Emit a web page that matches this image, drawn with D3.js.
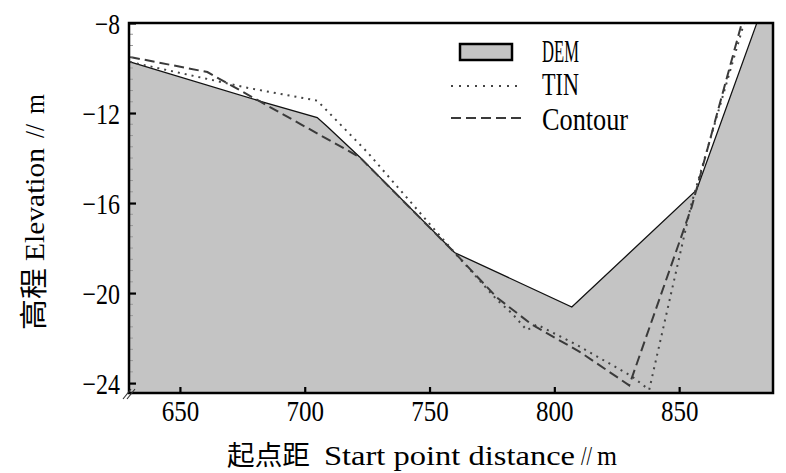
<!DOCTYPE html>
<html>
<head>
<meta charset="utf-8">
<script src="https://cdn.jsdelivr.net/npm/d3@7"></script>
<style>
  body { margin: 0; background: #fff; }
  text { font-family: "Liberation Serif", "Noto Sans CJK SC", serif; fill: #000; }
  .cjk { font-family: "Noto Sans CJK SC", sans-serif; }
</style>
</head>
<body>
<div id="chart"></div>
<script>
// profile data (distance in m, elevation in m)
const demX = [630, 683, 705, 709, 722, 760, 807, 857, 881, 890];
const demY = [-9.73, -11.5, -12.2, -12.6, -13.95, -18.2, -20.62, -15.42, -8.04, -5.2];

const tinX = [630, 678, 705, 725, 760, 777, 783, 789, 793, 809, 831, 838, 855, 876, 880];
const tinY = [-9.73, -10.9, -11.45, -13.73, -18.2, -20.3, -20.9, -21.65, -21.4, -22.3, -23.7, -24.3, -16.0, -8.0, -6.5];

const conX = [630, 661, 722, 760, 777, 791, 810, 830, 855, 875, 878];
const conY = [-9.51, -10.18, -13.96, -18.2, -20.2, -21.4, -22.6, -24.1, -16.18, -8.04, -6.8];

const xTicks = [650, 700, 750, 800, 850];
const yTicks = [-8, -12, -16, -20, -24];
const legendNames = ["DEM", "TIN", "Contour"];

const W = 786, H = 473;
const pl = 129, pr = 773, pt = 23, pb = 393;
const cw = 12.5; // half-width advance of the latin glyphs

const svg = d3.select("#chart").append("svg")
  .attr("width", W).attr("height", H);

const x = d3.scaleLinear().domain([629.6, 887.6]).range([pl, pr]);
const y = d3.scaleLinear().domain([-24.44, -8]).range([pb, pt]);

svg.append("clipPath").attr("id", "clip")
  .append("rect").attr("x", pl).attr("y", pt)
  .attr("width", pr - pl).attr("height", pb - pt);

const plot = svg.append("g").attr("clip-path", "url(#clip)");

const zip = (xs, ys) => xs.map((v, i) => [v, ys[i]]);

const area = d3.area().x(d => x(d[0])).y0(y(-24.44)).y1(d => y(d[1]));
const line = d3.line().x(d => x(d[0])).y(d => y(d[1]));

plot.append("path").datum(zip(demX, demY))
  .attr("d", area).attr("fill", "#c4c4c4");
plot.append("path").datum(zip(demX, demY))
  .attr("d", line).attr("fill", "none").attr("stroke", "#111").attr("stroke-width", 1.3);

plot.append("path").datum(zip(tinX, tinY))
  .attr("d", line).attr("fill", "none").attr("stroke", "#444")
  .attr("stroke-width", 2).attr("stroke-dasharray", "2,5");

plot.append("path").datum(zip(conX, conY))
  .attr("d", line).attr("fill", "none").attr("stroke", "#3a3a3a")
  .attr("stroke-width", 2).attr("stroke-dasharray", "10,5");

// minor y ticks every 0.5
const minor = d3.range(-24, -8, 0.5).filter(v => v % 4 !== 0);
svg.append("g").selectAll("line").data(minor).enter().append("line")
  .attr("x1", pl).attr("x2", pl + 4)
  .attr("y1", d => y(d)).attr("y2", d => y(d))
  .attr("stroke", "#999").attr("stroke-width", 1);

// y axis
const yAxis = svg.append("g").attr("transform", `translate(${pl},0)`)
  .call(d3.axisLeft(y).tickValues(yTicks).tickSize(-7).tickPadding(0).tickSizeOuter(0));
yAxis.select(".domain").remove();
yAxis.selectAll(".tick line").attr("stroke", "#000").attr("stroke-width", 2.2);
yAxis.selectAll(".tick text")
  .attr("x", -9).attr("y", 10).attr("dy", 0)
  .style("font-size", "30px").attr("text-anchor", "end")
  .attr("textLength", function() { return this.textContent.length * cw; })
  .attr("lengthAdjust", "spacingAndGlyphs");

// x axis
const xAxis = svg.append("g").attr("transform", `translate(0,${pb})`)
  .call(d3.axisBottom(x).tickValues(xTicks).tickSize(-6).tickPadding(0).tickSizeOuter(0));
xAxis.select(".domain").remove();
xAxis.selectAll(".tick line").attr("stroke", "#000").attr("stroke-width", 2.2);
xAxis.selectAll(".tick text")
  .attr("y", 28).attr("dy", 0)
  .style("font-size", "30px")
  .attr("textLength", function() { return this.textContent.length * cw; })
  .attr("lengthAdjust", "spacingAndGlyphs");

// frame
svg.append("rect").attr("x", pl).attr("y", pt)
  .attr("width", pr - pl).attr("height", pb - pt)
  .attr("fill", "none").attr("stroke", "#000").attr("stroke-width", 2.5);

// axis break marks
[0, 4].forEach(o => {
  svg.append("line")
    .attr("x1", pl - 6 + o).attr("y1", pb + 6)
    .attr("x2", pl + 2 + o).attr("y2", pb - 4)
    .attr("stroke", "#333").attr("stroke-width", 1.2);
});

// text piece with a fixed length
function piece(g, str, px, py, len, size, cls) {
  return g.append("text").attr("class", cls || null)
    .attr("x", px).attr("y", py)
    .style("font-size", size + "px")
    .attr("textLength", len).attr("lengthAdjust", "spacingAndGlyphs")
    .text(str);
}

// x title
const xt = svg.append("g");
piece(xt, "起点距", 227, 465, 83, 27, "cjk");
piece(xt, "Start point distance", 324, 465, 251, 28);
piece(xt, "//", 581, 465, 11, 28);
piece(xt, "m", 597, 465, 20, 28);

// y title, rotated: x inside the group runs upward
const yt = svg.append("g").attr("transform", "translate(44,0) rotate(-90)");
piece(yt, "高程", -330, 0, 62, 28, "cjk");
piece(yt, "Elevation", -261, 0, 113, 28);
piece(yt, "//", -138, 0, 14, 28);
piece(yt, "m", -114, 0, 20, 28);

// legend
const lg = svg.append("g");
lg.append("rect").attr("x", 460).attr("y", 44).attr("width", 52).attr("height", 16)
  .attr("fill", "#c4c4c4").attr("stroke", "#000").attr("stroke-width", 2.5);
lg.append("line").attr("x1", 451).attr("x2", 523).attr("y1", 86).attr("y2", 86)
  .attr("stroke", "#444").attr("stroke-width", 2).attr("stroke-dasharray", "2,6");
lg.append("line").attr("x1", 451).attr("x2", 523).attr("y1", 118).attr("y2", 118)
  .attr("stroke", "#3a3a3a").attr("stroke-width", 2).attr("stroke-dasharray", "10,5");
const legY = [62, 95, 130];
legendNames.forEach((d, i) => piece(lg, d, 542, legY[i], d.length * 12.3, 31));
</script>
</body>
</html>
